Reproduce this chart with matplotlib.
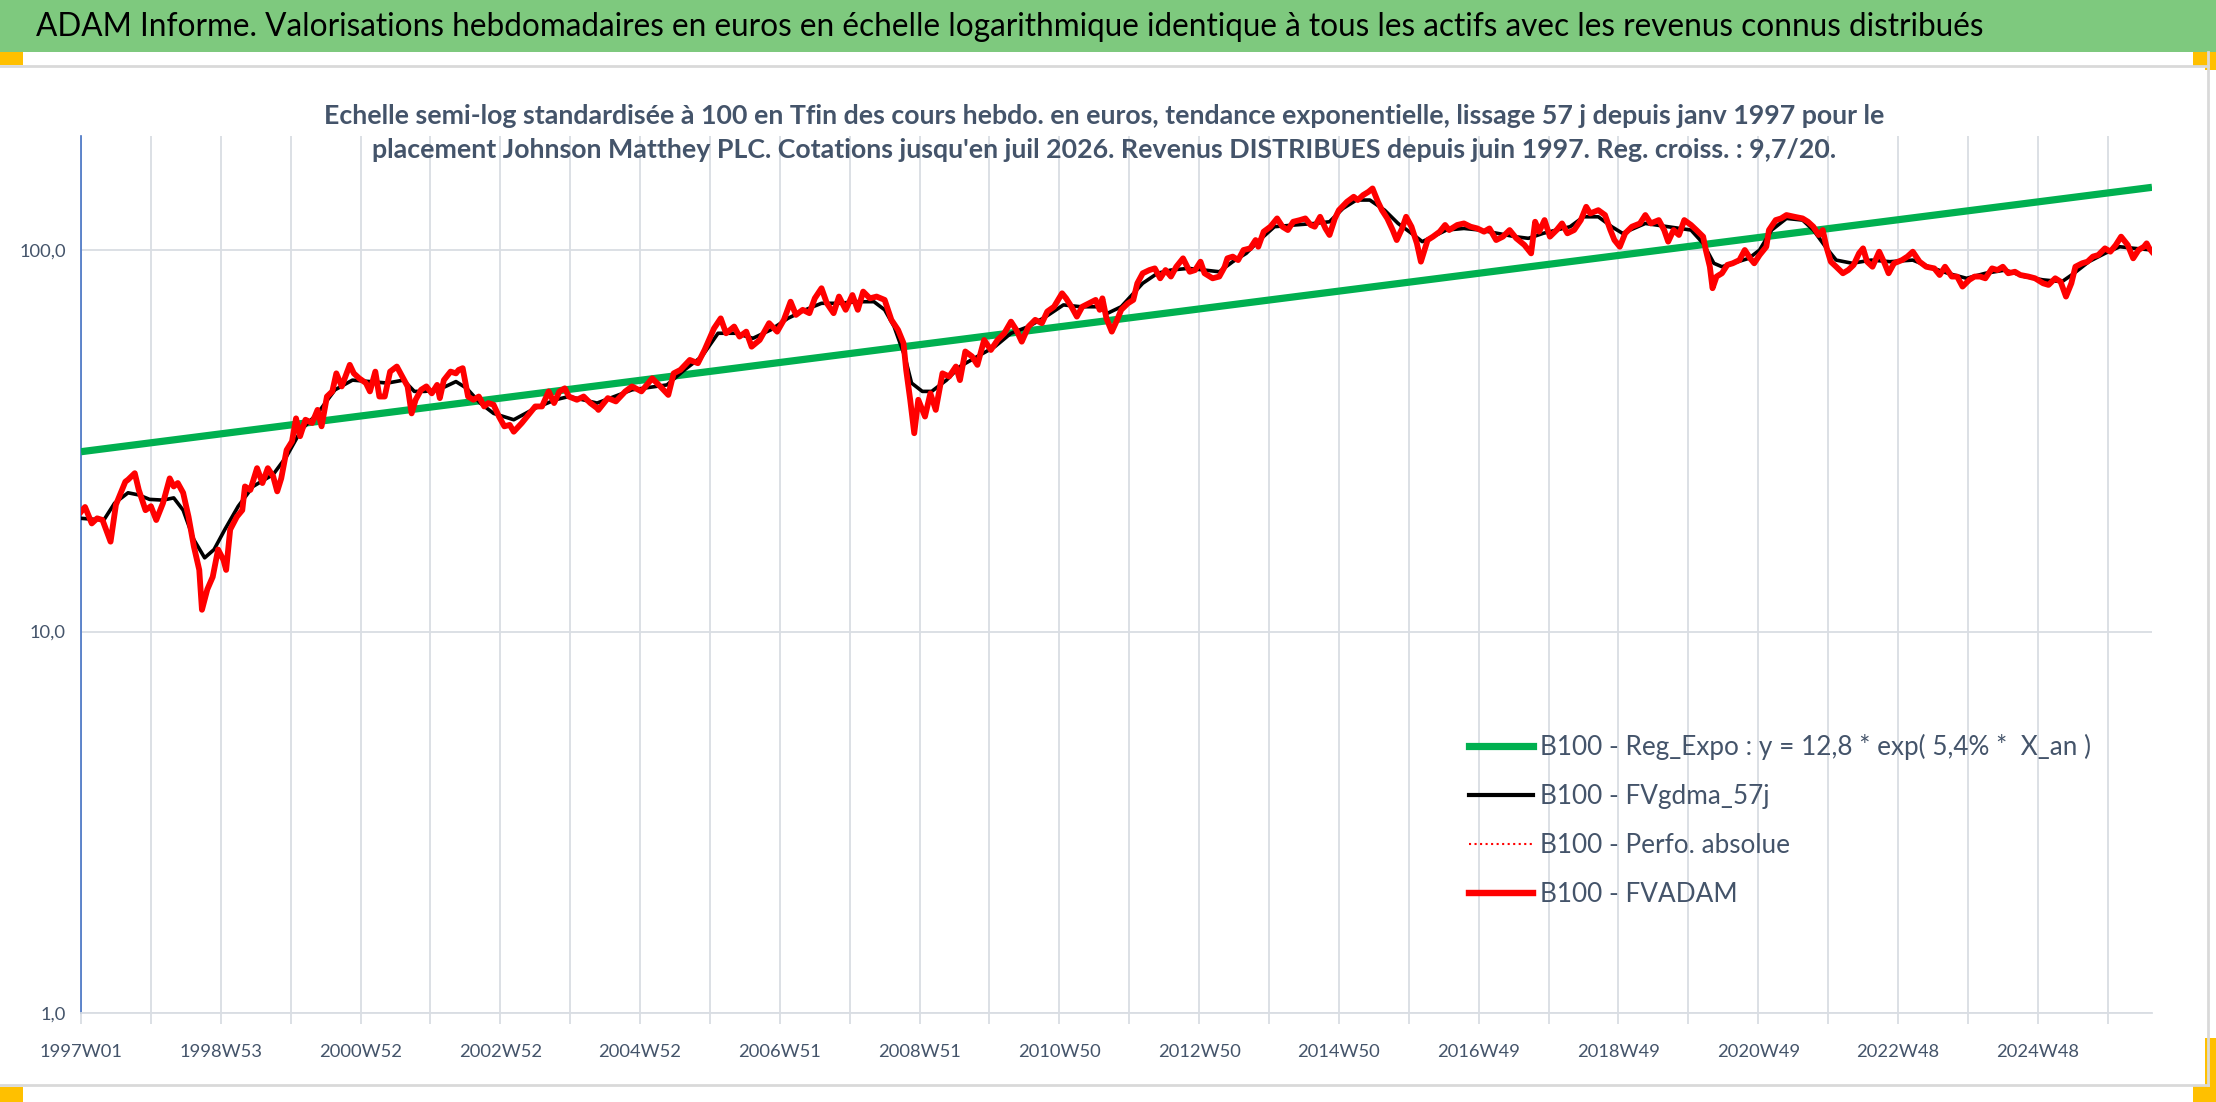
import matplotlib
matplotlib.use("Agg")
import matplotlib.pyplot as plt
from matplotlib.patches import Rectangle
from matplotlib.lines import Line2D

# week index since 1997W01 and standardised value (B100 - FVADAM)
red_weeks = [0, 3, 8, 12, 16, 22, 26, 33, 35, 40, 43, 48, 52, 56, 61, 66, 69, 72, 76, 80,
             84, 88, 90, 94, 98, 102, 106, 108, 111, 116, 120, 122, 126, 131, 135, 139, 143, 146, 149, 153,
             157, 160, 163, 167, 172, 176, 179, 183, 187, 190, 194, 200, 203, 207, 212, 215, 219, 222, 226, 230,
             235, 239, 243, 246, 249, 253, 257, 261, 265, 267, 270, 275, 279, 281, 284, 288, 292, 296, 300, 303,
             307, 311, 315, 319, 322, 328, 333, 338, 343, 348, 352, 356, 360, 363, 369, 374, 379, 384,
             385, 392, 398, 405, 410, 417, 425, 431, 437, 441, 446, 453, 459, 464, 471, 476, 480, 486, 490, 495,
             499, 505, 512, 518, 523, 528, 532, 537, 542, 546, 551, 555, 560, 564, 569, 574, 578, 582, 587, 592,
             598, 603, 608, 612, 614, 617, 620, 623, 628, 632, 636, 641, 646, 651, 654, 658, 663, 667, 672, 677,
             682, 687, 692, 696, 700, 705, 710, 715, 719, 724, 730, 733, 737, 741, 745, 750, 755, 758, 760, 763,
             767, 771, 774,
             779, 783, 786, 790, 795, 799, 803, 807, 811, 815, 820, 825, 829, 833, 836, 842, 847, 851, 853, 857,
             861, 865, 870, 874, 876, 880, 885, 890, 894, 898, 902, 907, 911, 915, 918, 922, 926, 929, 933, 936,
             942, 947, 950, 954, 958, 961, 965, 968, 972, 976, 979, 983, 986, 990, 994, 997, 1002, 1006, 1011, 1015,
             1018, 1024, 1029, 1034, 1039, 1044, 1048, 1053, 1058, 1063, 1068, 1074, 1079, 1082, 1085, 1089, 1093, 1098, 1102, 1106,
             1111, 1116, 1120, 1123, 1129, 1134, 1138, 1141, 1145, 1149, 1154,
             1160, 1164, 1168, 1174, 1178, 1181, 1185, 1189, 1193, 1198, 1202, 1207, 1209, 1212, 1214, 1217, 1221, 1225, 1229, 1234,
             1238, 1242, 1245, 1249, 1254, 1256, 1261, 1265, 1269, 1275, 1281, 1285, 1289, 1293, 1296, 1299, 1302, 1306, 1311, 1315,
             1319, 1323, 1326, 1329, 1333, 1338, 1342, 1345, 1349, 1355, 1359, 1363, 1368, 1373, 1379, 1383, 1387, 1392, 1396, 1400,
             1405, 1409, 1413, 1417, 1422, 1426, 1430, 1434, 1439, 1443, 1449, 1454, 1460, 1464, 1469, 1473, 1477, 1481, 1484, 1489,
             1493, 1497, 1501, 1506, 1510, 1514, 1518, 1523, 1527, 1531, 1535, 1537, 1539, 1541]
red_vals = [20.6, 21.2, 19.2, 19.8, 19.6, 17.2, 21.5, 24.7, 25.0, 26.0, 23.5, 20.8, 21.3, 19.6, 21.7, 25.2, 24.0, 24.5, 23.1, 20.0,
            16.7, 14.5, 11.4, 12.9, 13.9, 16.4, 15.4, 14.5, 18.5, 20.0, 20.8, 24.0, 23.5, 26.8, 24.5, 26.8, 25.5, 23.3, 25.2, 29.9,
            31.5, 36.2, 32.5, 35.9, 35.2, 38.1, 34.5, 41.3, 42.6, 47.5, 43.9, 50.0, 47.5, 46.1, 44.8, 42.6, 48.0, 41.3, 41.3, 48.0,
            49.5, 46.6, 43.9, 37.3, 40.5, 43.0, 43.9, 42.1, 44.3, 40.9, 45.6, 48.0, 47.5, 48.5, 49.0, 41.3, 40.5, 41.3, 38.9, 39.7,
            39.3, 36.6, 34.5, 34.8, 33.4, 35.2, 37.0, 38.9, 38.9, 42.6, 39.7, 42.6, 43.4, 41.3, 40.5, 41.3, 39.7, 38.5,
            38.1, 40.9, 40.1, 42.6, 43.9, 42.6, 46.1, 43.9, 41.7, 47.5, 48.5, 51.5, 50.5, 54.7, 62.3, 66.2, 60.5, 63.0, 59.3, 61.1,
            55.8, 58.1, 64.3, 61.1, 65.6, 73.2, 67.6, 69.7, 68.3, 74.7, 79.4, 72.5, 68.3, 75.5, 69.7, 76.2, 69.7, 77.8, 74.7, 75.5,
            74.0, 65.6, 61.7, 57.0, 48.5, 40.5, 33.1, 40.5, 36.6, 42.1, 38.1, 47.5, 46.6, 49.5, 45.6, 54.2, 52.6, 50.0, 58.1, 54.7,
            58.1, 60.5, 64.9, 61.7, 57.5, 63.0, 65.6, 64.3, 69.0, 71.0, 77.0, 74.7, 71.0, 66.9, 71.0, 72.5, 74.0, 69.7, 74.7, 66.2,
            61.1, 65.6, 69.7,
            72.5, 74.0, 81.8, 86.9, 88.6, 89.5, 84.3, 88.6, 85.2, 90.4, 95.1, 87.7, 88.6, 93.2, 86.9, 84.3, 85.2, 90.4, 95.1, 96.1,
            94.1, 100.0, 101.0, 106.2, 102.0, 111.7, 115.1, 121.0, 115.1, 112.8, 118.6, 119.8, 121.0, 116.3, 115.1, 122.2, 113.9, 109.5, 121.0, 127.2,
            133.8, 137.9, 135.2, 139.3, 142.1, 145.0, 133.8, 127.2, 121.0, 112.8, 106.2, 113.9, 122.2, 115.1, 104.1, 93.2, 106.2, 108.4, 111.7, 116.3,
            112.8, 116.3, 117.4, 115.1, 113.9, 111.7, 113.9, 106.2, 108.4, 112.8, 107.3, 103.1, 98.0, 118.6, 111.7, 119.8, 108.4, 112.8, 117.4, 110.6,
            112.8, 119.8, 129.8, 124.7, 127.2, 123.5, 112.8, 106.2, 102.0, 110.6, 115.1,
            117.4, 123.5, 117.4, 119.8, 112.8, 105.2, 112.8, 109.5, 119.8, 116.3, 112.8, 108.4, 100.0, 90.4, 79.4, 85.2, 86.9, 91.4, 92.3, 94.1,
            100.0, 95.1, 92.3, 97.0, 102.0, 112.8, 119.8, 121.0, 123.5, 122.2, 121.0, 118.6, 115.1, 109.5, 112.8, 101.0, 93.2, 90.4, 86.9, 88.6,
            91.4, 98.0, 101.0, 93.2, 90.4, 99.0, 92.3, 86.9, 92.3, 94.1, 96.1, 99.0, 93.2, 90.4, 89.5, 86.0, 90.4, 85.2, 85.2, 80.2,
            83.5, 85.2, 85.2, 84.3, 89.5, 88.6, 90.4, 86.9, 87.7, 86.0, 85.2, 84.3, 81.8, 81.0, 84.3, 82.6, 75.5, 81.8, 90.4, 92.3,
            93.2, 96.1, 97.0, 101.0, 99.0, 103.0, 108.4, 103.0, 95.1, 100.0, 102.0, 104.1, 101.0, 99.0]

# B100 - FVgdma_57j (smoothed)
black_weeks = [0, 17, 25, 35, 43, 51, 61, 69, 76, 84, 92, 99, 107, 117, 128, 143, 153, 164, 176, 189,
               202, 215, 228, 240, 248, 256, 266, 279, 287, 297, 307, 322, 338, 353, 363, 384,
               410, 436, 449, 462, 474, 487, 500, 513, 526, 539, 551, 564, 577, 590, 598, 605, 613, 618, 626, 633,
               644, 654, 667, 680, 692, 705, 718, 731, 744, 756, 764, 774,
               790, 801, 811, 824, 836, 847, 857, 867, 877, 888, 903, 918, 929, 939, 949, 959, 970, 980, 990, 998,
               1006, 1016, 1029, 1041, 1054, 1067, 1077, 1088, 1098, 1108, 1118, 1129, 1139, 1147,
               1164, 1181, 1198, 1207, 1215, 1221, 1229, 1241, 1249, 1258, 1269, 1281, 1289, 1298, 1306, 1318,
               1332, 1346, 1363, 1375, 1389, 1403, 1417, 1432, 1446, 1460, 1474, 1483, 1494, 1506, 1517, 1528, 1541]
black_vals = [19.8, 19.6, 21.7, 23.1, 22.8, 22.2, 22.1, 22.4, 20.8, 17.4, 15.6, 16.4, 18.5, 21.3, 24.0, 25.8, 28.8, 33.8, 37.3, 43.0,
              45.6, 45.2, 44.8, 45.6, 42.6, 42.6, 43.0, 45.2, 43.4, 39.7, 37.3, 35.9, 38.5, 40.5, 41.3, 39.7,
              43.0, 44.3, 48.5, 52.6, 60.5, 60.5, 58.7, 61.7, 66.2, 69.7, 72.5, 72.5, 73.2, 73.2, 69.7, 63.0, 52.6, 44.8, 42.6, 42.6,
              45.6, 49.5, 52.6, 55.8, 60.5, 63.0, 66.9, 71.8, 71.0, 71.0, 68.3, 71.0,
              81.8, 86.9, 88.6, 89.5, 88.6, 87.7, 93.2, 98.0, 106.2, 115.1, 116.3, 117.4, 118.6, 128.5, 135.2, 135.2, 127.2, 117.4, 110.6, 105.2,
              108.4, 112.8, 113.9, 112.8, 110.6, 108.4, 107.3, 110.6, 112.8, 115.1, 122.2, 122.2, 115.1, 110.6,
              117.4, 115.1, 112.8, 104.1, 92.3, 90.4, 92.3, 95.1, 100.0, 112.8, 121.0, 119.8, 112.8, 102.0, 94.1, 92.3,
              94.1, 93.2, 94.1, 90.4, 86.9, 84.3, 86.9, 88.6, 85.2, 83.5, 82.6, 86.9, 93.2, 98.0, 102.0, 101.0, 100.0]

# exponential regression, end points (straight on a log axis)
reg_weeks = [0, 1541]
reg_vals = [29.6, 146.0]

tick_labels = ["1997W01", "1998W53", "2000W52", "2002W52", "2004W52", "2006W51", "2008W51", "2010W50",
               "2012W50", "2014W50", "2016W49", "2018W49", "2020W49", "2022W48", "2024W48"]

title = ("ADAM Informe. Valorisations hebdomadaires en euros en échelle logarithmique identique "
         "à tous les actifs avec les revenus connus distribués")
subtitle = ("Echelle semi-log standardisée à 100 en Tfin des cours hebdo. en euros, tendance exponentielle, "
            "lissage 57 j depuis janv 1997 pour le\nplacement Johnson Matthey PLC. Cotations jusqu'en juil 2026. "
            "Revenus DISTRIBUES depuis juin 1997. Reg. croiss. : 9,7/20.")
legend_labels = ["B100 - Reg_Expo : y = 12,8 * exp( 5,4% *  X_an )", "B100 - FVgdma_57j",
                 "B100 - Perfo. absolue", "B100 - FVADAM"]

plt.rcParams["font.family"] = ["Lato", "DejaVu Sans"]
TXT = "#44546A"
GRID = "#D9DDE3"

W, H = 2216, 1102
fig = plt.figure(figsize=(W / 100, H / 100), dpi=100)
renderer = fig.canvas.get_renderer()


def fit_size(text, width_px, weight="normal"):
    # font size (pt) that gives the text the wanted width in pixels
    t = fig.text(0, 0, text, fontsize=20, fontweight=weight)
    w = t.get_window_extent(renderer).width
    t.remove()
    return 20 * width_px / w


# banner, frame and selection handles
fig.patches.append(Rectangle((0, 1 - 52 / H), 1, 52 / H, transform=fig.transFigure,
                             facecolor="#7EC97E", edgecolor="none"))
fig.add_artist(Line2D([0, 2208 / W], [1 - 66 / H, 1 - 66 / H], color="#D9D9D9", lw=2))
fig.add_artist(Line2D([0, 2208 / W], [1 - 1085 / H, 1 - 1085 / H], color="#D9D9D9", lw=2))
fig.add_artist(Line2D([2208 / W, 2208 / W], [1 - 1085 / H, 1 - 52 / H], color="#D9D9D9", lw=2))
for (x0, y0, w, h) in [(0, 52, 23, 13), (2193, 52, 23, 14), (0, 1087, 23, 15), (2193, 1086, 23, 16),
                       (2205, 1038, 11, 50), (2205, 52, 11, 18)]:
    fig.patches.append(Rectangle((x0 / W, 1 - (y0 + h) / H), w / W, h / H, transform=fig.transFigure,
                                 facecolor="#FFC000", edgecolor="none"))

fig.text(36 / W, 1 - 27 / H, title, fontsize=fit_size(title, 1952), color="black",
         ha="left", va="center")
fig.text(1104 / W, 1 - 133 / H, subtitle, fontsize=fit_size(subtitle, 1565, "bold"), color=TXT,
         ha="center", va="center", fontweight="bold", linespacing=1.5)

ax = fig.add_axes([81 / W, 1 - 1013 / H, (2152 - 81) / W, (1013 - 136) / H])
ax.set_yscale("log")
ax.set_ylim(1, 199)
ax.set_xlim(0, 1541)

ax.plot(reg_weeks, reg_vals, color="#00B050", lw=5.2, solid_capstyle="butt", zorder=3)
ax.plot(black_weeks, black_vals, color="black", lw=2.6, zorder=4)
ax.plot(red_weeks, red_vals, color="red", lw=1.2, ls=":", zorder=4)
ax.plot(red_weeks, red_vals, color="red", lw=4.2, zorder=5)

tick_size = fit_size("1997W01", 83)
ax.set_yticks([1, 10, 100])
ax.set_yticklabels(["1,0", "10,0", "100,0"])
ax.yaxis.set_minor_locator(matplotlib.ticker.NullLocator())
xt = list(range(0, 1541, 52))
ax.set_xticks(xt)
ax.set_xticklabels([tick_labels[i // 2] if i % 2 == 0 else "" for i in range(len(xt))])
ax.tick_params(axis="x", length=8, width=1.3, color=GRID, pad=14, labelsize=tick_size, labelcolor=TXT)
ax.tick_params(axis="y", length=0, pad=11, labelsize=tick_size, labelcolor=TXT)
ax.grid(True, which="major", color=GRID, lw=1.3, zorder=0)
ax.set_axisbelow(True)
for s in ["top", "right"]:
    ax.spines[s].set_visible(False)
ax.spines["left"].set_color("#4472C4")
ax.spines["left"].set_linewidth(1.2)
ax.spines["bottom"].set_color(GRID)
ax.spines["bottom"].set_linewidth(1.3)

# legend drawn with proxy lines so sizes can be set freely
leg_size = fit_size(legend_labels[0], 551)
fs_px = leg_size * 100 / 72
handles = [Line2D([], [], color="#00B050", lw=5.2),
           Line2D([], [], color="black", lw=3.0),
           Line2D([], [], color="red", lw=1.5, ls=":"),
           Line2D([], [], color="red", lw=4.6)]
probe = fig.text(0, 0, legend_labels[0], fontsize=leg_size)
th = probe.get_window_extent(renderer).height
probe.remove()
ax.legend(handles, legend_labels, loc="upper left", bbox_to_anchor=(1469 / W, 1 - (747 - th / 2) / H),
          bbox_transform=fig.transFigure, frameon=False, fontsize=leg_size, labelcolor=TXT,
          handlelength=64 / fs_px, handletextpad=7 / fs_px, labelspacing=(50 - th) / fs_px,
          borderpad=0, borderaxespad=0)

fig.savefig("out.png", dpi=100)
